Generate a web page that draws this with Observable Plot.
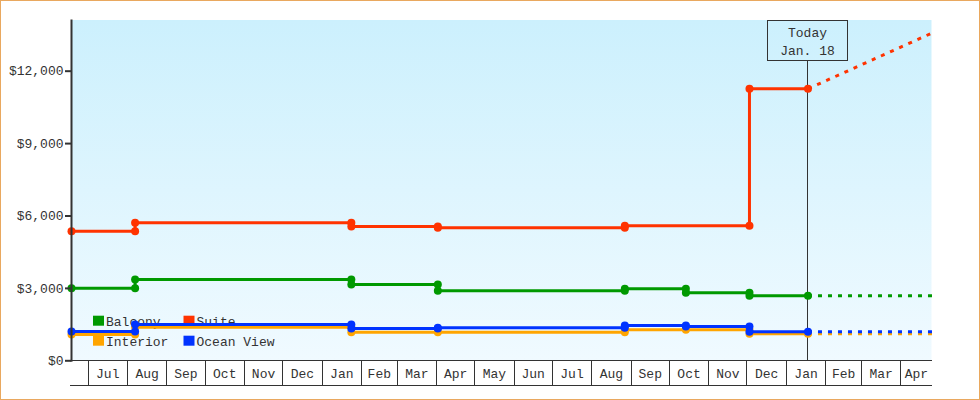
<!DOCTYPE html>
<html><head><meta charset="utf-8">
<script src="https://cdn.jsdelivr.net/npm/d3@7"></script>
<script src="https://cdn.jsdelivr.net/npm/@observablehq/plot@0.6"></script>
<style>
html,body{margin:0;padding:0;background:#fff;}
#box{width:978px;height:398px;border:1px solid #e9a85f;overflow:hidden;}
#box svg{display:block;}
</style></head><body><div id="box"></div>
<script>
// ---- data ----
const dates = ["2016-06-18","2016-08-07","2017-01-24","2017-04-02","2017-08-27","2017-10-14","2017-12-03","2018-01-18"];
const series = ["Interior","Ocean View","Balcony","Suite"];
const colors = ["#ffa500","#0033ff","#009900","#ff3300"];
const interiorBefore = [1090,1090,1390,1185,1185,1285,1285,1120];
const interiorAfter  = [1090,1390,1185,1185,1285,1285,1120,1120];
const oceanBefore    = [1215,1215,1505,1340,1370,1465,1420,1200];
const oceanAfter     = [1215,1505,1340,1370,1465,1420,1200,1200];
const balconyBefore  = [3010,3010,3370,3160,2900,2985,2820,2695];
const balconyAfter   = [3010,3370,3160,2900,2985,2820,2695,2695];
const suiteBefore    = [5370,5370,5720,5565,5510,null,5600,11270];
const suiteAfter     = [5370,5720,5565,5510,5600,null,11270,11270];
const today = "2018-01-18";
const todayLabel = ["Today","Jan. 18"];
const projEnd = "2018-04-25T12:00Z";
const projValues = [1120, 1200, 2695, 13580];
const domainX = ["2016-06-18","2018-04-25T12:00Z"];
const domainY = [0, 14100];
const yTicks = [0,3000,6000,9000,12000];
const monthStarts = ["2016-06-01","2016-07-01","2016-08-01","2016-09-01","2016-10-01","2016-11-01","2016-12-01",
  "2017-01-01","2017-02-01","2017-03-01","2017-04-01","2017-05-01","2017-06-01","2017-07-01","2017-08-01","2017-09-01",
  "2017-10-01","2017-11-01","2017-12-01","2018-01-01","2018-02-01","2018-03-01","2018-04-01","2018-05-01"];
const monthLabels = ["Jun","Jul","Aug","Sep","Oct","Nov","Dec","Jan","Feb","Mar","Apr","May","Jun","Jul","Aug","Sep","Oct","Nov","Dec","Jan","Feb","Mar","Apr"];
const legendOrder = ["Balcony","Suite","Interior","Ocean View"];

// ---- build rows ----
const befores = [interiorBefore, oceanBefore, balconyBefore, suiteBefore];
const afters = [interiorAfter, oceanAfter, balconyAfter, suiteAfter];
const rows = [];
series.forEach((s, i) => {
  dates.forEach((d, j) => {
    const b = befores[i][j], a = afters[i][j];
    if (b == null) return;
    rows.push({series: s, date: new Date(d), value: b});
    if (a !== b) rows.push({series: s, date: new Date(d), value: a});
  });
});
const proj = [];
series.forEach((s, i) => {
  proj.push({series: s, date: new Date(today), value: afters[i][afters[i].length - 1]});
  proj.push({series: s, date: new Date(projEnd), value: projValues[i]});
});

const FONT = "Liberation Mono, DejaVu Sans Mono, monospace";
const INK = "#333";
const colorOf = s => colors[series.indexOf(s)];

function getX(scales) {
  if (scales && typeof scales.x === "function") return scales.x;
  return d3.scaleUtc(domainX.map(d => new Date(d)), [70, 930.5]);
}

// background gradient of plot area
function background(index, scales, values, dim) {
  const g = d3.create("svg:g");
  const grad = g.append("defs").append("linearGradient").attr("id", "bgGrad")
    .attr("x1", 0).attr("y1", 0).attr("x2", 0).attr("y2", 1);
  grad.append("stop").attr("offset", "0%").attr("stop-color", "#ccf0fd");
  grad.append("stop").attr("offset", "100%").attr("stop-color", "#f0faff");
  g.append("rect").attr("x", dim.marginLeft).attr("y", dim.marginTop)
    .attr("width", dim.width - dim.marginLeft - dim.marginRight)
    .attr("height", dim.height - dim.marginTop - dim.marginBottom)
    .attr("fill", "url(#bgGrad)");
  return g.node();
}

// legend, drawn under the lines
function legend(index, scales, values, dim) {
  const g = d3.create("svg:g").attr("font-family", FONT).attr("font-size", 13).attr("text-anchor", "start");
  legendOrder.forEach((s, i) => {
    const col = i % 2, row = Math.floor(i / 2);
    const x = dim.marginLeft + 22 + col * 90.5;
    const y = 314.7 + row * 20;
    g.append("rect").attr("x", x).attr("y", y).attr("width", 11).attr("height", 10).attr("fill", colorOf(s));
    g.append("text").attr("x", x + 13).attr("y", y + 9.8).attr("text-anchor", "start").attr("fill", INK).text(s);
  });
  return g.node();
}

// today marker
function todayMark(index, scales, values, dim) {
  const x = getX(scales);
  const tx = Math.round(x(new Date(today))) + 0.5;
  const g = d3.create("svg:g").attr("font-family", FONT).attr("font-size", 13);
  g.append("rect").attr("x", tx - 40).attr("y", dim.marginTop + 0.5).attr("width", 80).attr("height", 40)
    .attr("fill", "none").attr("stroke", INK).attr("shape-rendering", "crispEdges");
  g.append("line").attr("x1", tx).attr("x2", tx).attr("y1", dim.marginTop + 40.5)
    .attr("y2", dim.height - dim.marginBottom).attr("stroke", INK).attr("shape-rendering", "crispEdges");
  g.append("text").attr("x", tx).attr("y", dim.marginTop + 17.3).attr("text-anchor", "middle").attr("fill", INK).text(todayLabel[0]);
  g.append("text").attr("x", tx).attr("y", dim.marginTop + 35).attr("text-anchor", "middle").attr("fill", INK).text(todayLabel[1]);
  return g.node();
}

// bottom month axis (boxed cells)
function monthAxis(index, scales, values, dim) {
  const x = getX(scales);
  const left = dim.marginLeft, right = dim.width - dim.marginRight;
  const g = d3.create("svg:g").attr("font-family", FONT).attr("font-size", 13);
  const lines = g.append("g").attr("stroke", INK).attr("shape-rendering", "crispEdges");
  lines.append("line").attr("x1", left - 1).attr("x2", right).attr("y1", 359.5).attr("y2", 359.5);
  lines.append("line").attr("x1", left - 1).attr("x2", right).attr("y1", 384.5).attr("y2", 384.5);
  for (let i = 0; i < monthLabels.length; i++) {
    const a = x(new Date(monthStarts[i])), b = x(new Date(monthStarts[i + 1]));
    if (a > left + 2 && a < right - 1) {
      const xx = Math.round(a) + 0.5;
      lines.append("line").attr("x1", xx).attr("x2", xx).attr("y1", 359.5).attr("y2", 384.5);
    }
    const va = Math.max(a, left), vb = Math.min(b, right);
    if (vb - va > 24) {
      g.append("text").attr("x", (va + vb) / 2 + 0.5).attr("y", 376.5).attr("text-anchor", "middle")
        .attr("fill", INK).text(monthLabels[i]);
    }
  }
  return g.node();
}

const hasAxisMark = typeof Plot.axisY === "function";
const marks = [background, legend, todayMark];
series.forEach(s => {
  const r = rows.filter(d => d.series === s);
  const p = proj.filter(d => d.series === s);
  marks.push(Plot.line(p, {x: "date", y: "value", stroke: "series", strokeWidth: 3, strokeDasharray: "4,6", strokeLinecap: "butt"}));
  marks.push(Plot.line(r, {x: "date", y: "value", stroke: "series", strokeWidth: 3, strokeLinejoin: "miter", strokeLinecap: "butt"}));
  marks.push(Plot.dot(r, {x: "date", y: "value", fill: "series", r: 4, stroke: "none"}));
});
marks.push(Plot.frame({anchor: "left", stroke: INK, strokeWidth: 2}));
if (hasAxisMark) {
  marks.push(Plot.axisY({ticks: yTicks, tickFormat: d => "$" + d3.format(",")(d), tickSize: 6, tickPadding: 2,
    strokeWidth: 2, stroke: INK, fill: INK, fontSize: 13, label: null}));
}
marks.push(monthAxis);

const chart = Plot.plot({
  width: 978, height: 398,
  marginLeft: 70, marginRight: 47.5, marginTop: 19, marginBottom: 38.7,
  style: {fontFamily: FONT, fontSize: "13px", color: INK, background: "transparent", overflow: "visible"},
  x: {type: "utc", domain: domainX.map(d => new Date(d)), axis: null},
  y: hasAxisMark ? {domain: domainY, axis: null} :
     {domain: domainY, ticks: yTicks, tickFormat: d => "$" + d3.format(",")(d), tickSize: 6, tickPadding: 2, label: null},
  color: {domain: series, range: colors},
  marks
});
document.getElementById("box").appendChild(chart);
</script>
</body></html>
